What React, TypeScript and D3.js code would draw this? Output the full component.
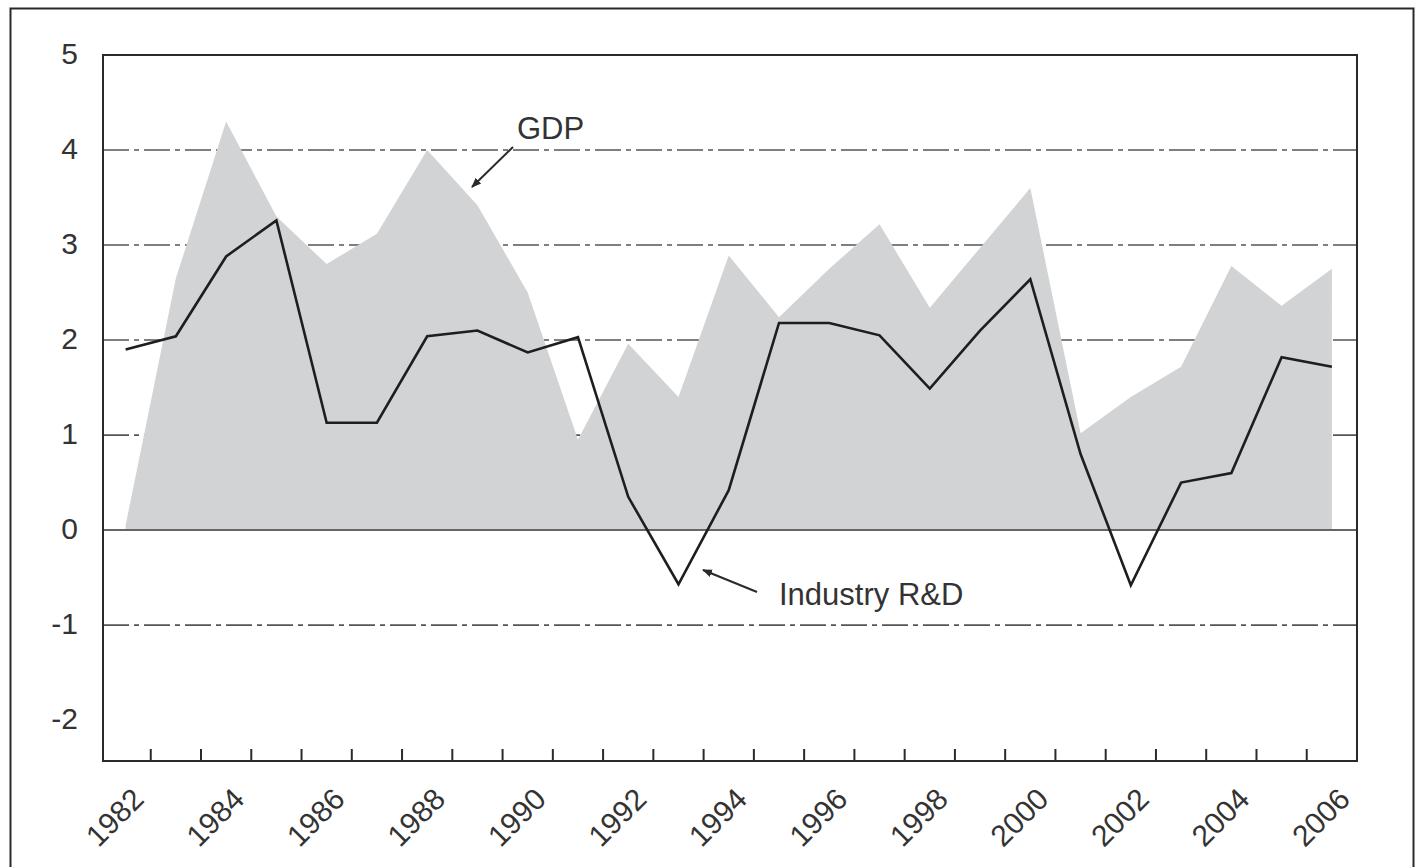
import React, { useEffect, useRef } from "react";
import * as d3 from "d3";

// years on the x axis
const years = [
  1982, 1983, 1984, 1985, 1986, 1987, 1988, 1989, 1990, 1991, 1992, 1993,
  1994, 1995, 1996, 1997, 1998, 1999, 2000, 2001, 2002, 2003, 2004, 2005, 2006,
];
// GDP growth (shaded area)
const gdp = [
  0.05, 2.65, 4.3, 3.3, 2.8, 3.12, 4.0, 3.42, 2.5, 0.95, 1.96, 1.4, 2.89,
  2.24, 2.75, 3.22, 2.34, 2.97, 3.6, 1.02, 1.4, 1.72, 2.78, 2.36, 2.75,
];
// Industry R&D growth (line)
const industryRD = [
  1.9, 2.04, 2.88, 3.26, 1.13, 1.13, 2.04, 2.1, 1.87, 2.03, 0.35, -0.57,
  0.42, 2.18, 2.18, 2.05, 1.49, 2.1, 2.64, 0.8, -0.58, 0.5, 0.6, 1.82, 1.72,
];
const yTicks = [-2, -1, 0, 1, 2, 3, 4, 5];
const gridValues = [-1, 1, 2, 3, 4];
const xLabels = [1982, 1984, 1986, 1988, 1990, 1992, 1994, 1996, 1998, 2000, 2002, 2004, 2006];

const font = "Arial, 'Liberation Sans', sans-serif";

function Chart() {
  const ref = useRef<SVGSVGElement>(null);

  useEffect(() => {
    const svg = d3.select(ref.current);
    svg.selectAll("*").remove();

    const left = 103, right = 1357, top = 55, bottom = 761;

    const x = d3.scaleLinear().domain([1981.55, 2006.5]).range([left, right]);
    const y = d3.scaleLinear().domain([-2.43, 5]).range([bottom, top]);

    svg.append("rect").attr("width", 1423).attr("height", 867).attr("fill", "#fff");

    // outer frame
    svg.append("rect")
      .attr("x", 10.5).attr("y", 8.5).attr("width", 1403).attr("height", 880)
      .attr("fill", "none").attr("stroke", "#2a2a2a").attr("stroke-width", 2);

    const defs = svg.append("defs");
    defs.append("marker")
      .attr("id", "arrow").attr("viewBox", "0 0 10 10")
      .attr("refX", 9).attr("refY", 5)
      .attr("markerWidth", 5).attr("markerHeight", 5)
      .attr("orient", "auto")
      .append("path").attr("d", "M0,1 L10,5 L0,9 Z").attr("fill", "#2a2a2a");

    // dash-dot grid lines (behind the area)
    svg.selectAll(".grid").data(gridValues).join("line").attr("class", "grid")
      .attr("x1", left).attr("x2", right)
      .attr("y1", d => y(d)).attr("y2", d => y(d))
      .attr("stroke", "#555").attr("stroke-width", 1.6)
      .attr("stroke-dasharray", "26 5 5 5");

    // GDP area
    const area = d3.area<number>()
      .x((d, i) => x(years[i]))
      .y0(y(0))
      .y1(d => y(d));
    svg.append("path").datum(gdp).attr("d", area).attr("fill", "#d2d3d5");

    // zero line
    svg.append("line")
      .attr("x1", left).attr("x2", right).attr("y1", y(0)).attr("y2", y(0))
      .attr("stroke", "#666").attr("stroke-width", 2);

    // Industry R&D line
    const line = d3.line<number>()
      .x((d, i) => x(years[i]))
      .y(d => y(d));
    svg.append("path").datum(industryRD).attr("d", line)
      .attr("fill", "none").attr("stroke", "#1e1e1e").attr("stroke-width", 2.6)
      .attr("stroke-linejoin", "miter");

    // plot frame
    svg.append("rect")
      .attr("x", left).attr("y", top).attr("width", right - left).attr("height", bottom - top)
      .attr("fill", "none").attr("stroke", "#2a2a2a").attr("stroke-width", 2);

    // x ticks between years
    svg.selectAll(".xtick").data(years.slice(0, -1)).join("line").attr("class", "xtick")
      .attr("x1", d => x(d + 0.5)).attr("x2", d => x(d + 0.5))
      .attr("y1", bottom).attr("y2", bottom - 12)
      .attr("stroke", "#2a2a2a").attr("stroke-width", 2);

    // y labels
    svg.selectAll(".ylab").data(yTicks).join("text").attr("class", "ylab")
      .attr("x", 78).attr("y", d => y(d) + 1)
      .attr("text-anchor", "end").attr("dominant-baseline", "middle")
      .style("font-family", font).style("font-size", "30px").attr("fill", "#333")
      .text(d => d);

    // x labels, rotated
    svg.selectAll(".xlab").data(xLabels).join("text").attr("class", "xlab")
      .attr("transform", d => `translate(${x(d) + 20}, 801) rotate(-45)`)
      .attr("text-anchor", "end")
      .style("font-family", font).style("font-size", "30px").attr("fill", "#333")
      .text(d => d);

    // annotations
    svg.append("text")
      .attr("x", 517).attr("y", 139)
      .style("font-family", font).style("font-size", "31px").attr("fill", "#333")
      .text("GDP");
    svg.append("line")
      .attr("x1", 513).attr("y1", 147).attr("x2", 472).attr("y2", 187)
      .attr("stroke", "#2a2a2a").attr("stroke-width", 2).attr("marker-end", "url(#arrow)");

    svg.append("text")
      .attr("x", 779).attr("y", 605)
      .style("font-family", font).style("font-size", "31px").attr("fill", "#333")
      .text("Industry R&D");
    svg.append("line")
      .attr("x1", 757).attr("y1", 592).attr("x2", 703).attr("y2", 570)
      .attr("stroke", "#2a2a2a").attr("stroke-width", 2).attr("marker-end", "url(#arrow)");
  }, []);

  return (
    <svg ref={ref} width={1423} height={867}
      style={{ position: "absolute", left: 0, top: 0, display: "block" }} />
  );
}

export default function App() {
  return <Chart />;
}
